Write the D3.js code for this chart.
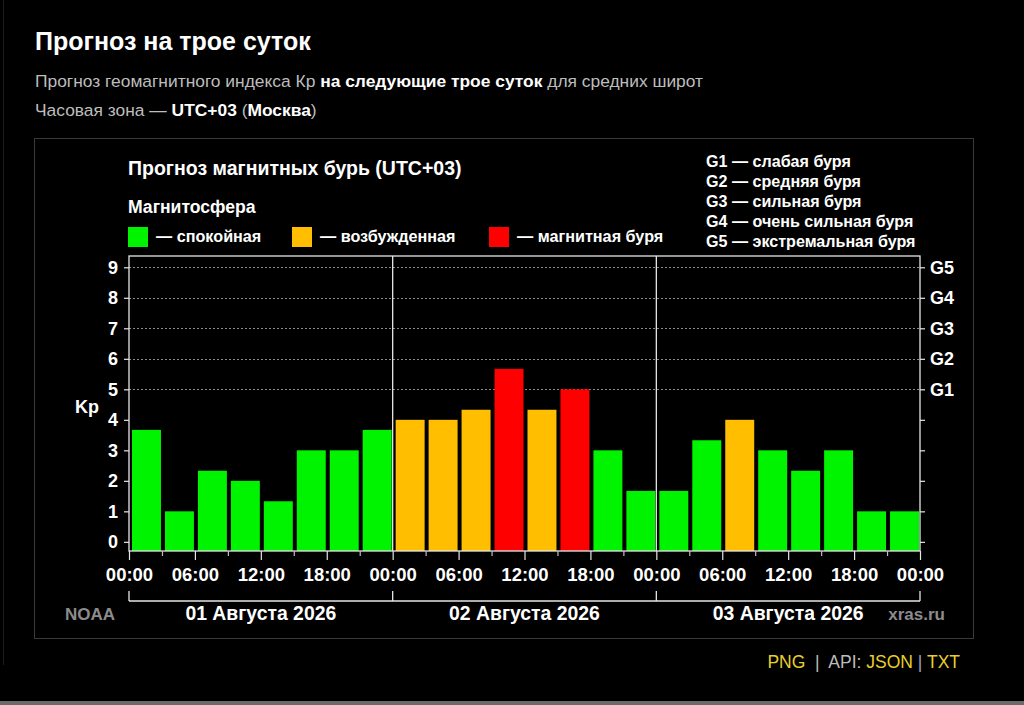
<!DOCTYPE html>
<html><head><meta charset="utf-8">
<script src="https://cdn.jsdelivr.net/npm/d3@7"></script>
<style>
body{margin:0;background:#000;overflow:hidden}
svg{display:block}
text{font-family:"Liberation Sans",Arial,Helvetica,sans-serif;white-space:pre}
</style>
</head><body><svg id="c" width="1024" height="705"></svg>
<script>
// ---- data ----
const days = ["01 Августа 2026", "02 Августа 2026", "03 Августа 2026"];
const kp = [3.67, 1, 2.33, 2, 1.33, 3, 3, 3.67,
            4, 4, 4.33, 5.67, 4.33, 5, 3, 1.67,
            1.67, 3.33, 4, 3, 2.33, 3, 1, 1];
const yTicks = [0, 1, 2, 3, 4, 5, 6, 7, 8, 9];
const gLevels = [5, 6, 7, 8, 9];
const gLabels = ["G1", "G2", "G3", "G4", "G5"];
const gLegend = ["G1 — слабая буря", "G2 — средняя буря", "G3 — сильная буря",
                 "G4 — очень сильная буря", "G5 — экстремальная буря"];
const statusLabels = ["— спокойная", "— возбужденная", "— магнитная буря"];
const statusColors = ["#00f400", "#ffbf00", "#ff0000"];
const hourLabels = ["00:00", "06:00", "12:00", "18:00"];

const svg = d3.select("#c");
const W = "#ffffff";

// page decorations
svg.append("line").attr("x1", 3.5).attr("x2", 3.5).attr("y1", 0).attr("y2", 665)
  .attr("stroke", "#1c1c1c");
svg.append("rect").attr("x", 0).attr("y", 701).attr("width", 1024).attr("height", 4).attr("fill", "#6a6a6a");

// header
svg.append("text").attr("x", 35).attr("y", 50).attr("fill", W)
  .style("font-size", "25px").style("font-weight", "bold").text("Прогноз на трое суток");
const s1 = svg.append("text").attr("x", 35).attr("y", 87).attr("fill", "#bdbdbd").style("font-size", "17.4px");
s1.append("tspan").text("Прогноз геомагнитного индекса Кр ");
s1.append("tspan").attr("fill", W).style("font-weight", "bold").text("на следующие трое суток");
s1.append("tspan").text(" для средних широт");
const s2 = svg.append("text").attr("x", 35).attr("y", 116).attr("fill", "#bdbdbd").style("font-size", "17.4px");
s2.append("tspan").text("Часовая зона — ");
s2.append("tspan").attr("fill", W).style("font-weight", "bold").text("UTC+03");
s2.append("tspan").text(" (");
s2.append("tspan").attr("fill", W).style("font-weight", "bold").text("Москва");
s2.append("tspan").text(")");

// chart frame
svg.append("rect").attr("x", 34.5).attr("y", 138.5).attr("width", 939).attr("height", 500)
  .attr("fill", "#000").attr("stroke", "#3a3a3a");

// chart titles
svg.append("text").attr("x", 128).attr("y", 175).attr("fill", W)
  .style("font-size", "19.5px").style("font-weight", "bold").text("Прогноз магнитных бурь (UTC+03)");
svg.append("text").attr("x", 128).attr("y", 213).attr("fill", W)
  .style("font-size", "17.6px").style("font-weight", "bold").text("Магнитосфера");

// status legend
const legX = [128, 292, 489];
statusLabels.forEach((l, i) => {
  svg.append("rect").attr("x", legX[i]).attr("y", 227).attr("width", 20).attr("height", 20).attr("fill", statusColors[i]);
  svg.append("text").attr("x", legX[i] + 28).attr("y", 242).attr("fill", W)
    .style("font-size", "16.2px").style("font-weight", "bold").text(l);
});

// G legend
gLegend.forEach((l, i) => {
  svg.append("text").attr("x", 706).attr("y", 167 + i * 20).attr("fill", W)
    .style("font-size", "16.1px").style("font-weight", "bold").text(l);
});

// scales
const x = d3.scaleLinear().domain([0, 72]).range([129, 920]);
const y = d3.scaleLinear().domain([-0.3, 9.37]).range([551, 256]);

// grid (storm levels)
svg.append("g").selectAll("line").data(gLevels).join("line")
  .attr("x1", x(0)).attr("x2", x(72))
  .attr("y1", d => Math.round(y(d)) + 0.5).attr("y2", d => Math.round(y(d)) + 0.5)
  .attr("stroke", "#8a8a8a").attr("stroke-dasharray", "2,2");

// bars
const colorOf = v => v >= 5 ? statusColors[2] : (v >= 4 ? statusColors[1] : statusColors[0]);
const slot = x(3) - x(0);
svg.append("g").selectAll("rect").data(kp).join("rect")
  .attr("x", (d, i) => x(i * 3) + 3)
  .attr("width", slot - 4)
  .attr("y", d => y(d))
  .attr("height", d => y(-0.3) - y(d))
  .attr("fill", d => colorOf(d));

// frame lines
const lineCol = "#e6e6e6";
svg.append("rect").attr("x", x(0)).attr("y", y(9.37)).attr("width", x(72) - x(0)).attr("height", y(-0.3) - y(9.37))
  .attr("fill", "none").attr("stroke", lineCol).attr("stroke-width", 1.3);
svg.append("g").selectAll("line").data([24, 48]).join("line")
  .attr("x1", d => x(d)).attr("x2", d => x(d)).attr("y1", y(9.37)).attr("y2", y(-0.3))
  .attr("stroke", lineCol).attr("stroke-width", 1.3);

function styleAxis(g, size) {
  g.select(".domain").remove();
  g.selectAll(".tick line").attr("stroke", lineCol).attr("stroke-width", 1.2);
  g.selectAll(".tick text").attr("fill", W).style("font-size", size + "px").style("font-weight", "bold")
    .style("font-family", '"Liberation Sans",Arial,sans-serif');
}

// left axis
svg.append("g").attr("transform", `translate(${x(0)},0)`)
  .call(d3.axisLeft(y).tickValues(yTicks).tickSize(5).tickPadding(6).tickFormat(d3.format("d")))
  .call(g => styleAxis(g, 18));
// right axis
svg.append("g").attr("transform", `translate(${x(72)},0)`)
  .call(d3.axisRight(y).tickValues(yTicks).tickSize(5).tickPadding(5)
    .tickFormat(d => { const k = gLevels.indexOf(d); return k >= 0 ? gLabels[k] : ""; }))
  .call(g => styleAxis(g, 18));

svg.append("text").attr("x", 75).attr("y", 413).attr("fill", W)
  .style("font-size", "18px").style("font-weight", "bold").text("Kp");

// bottom axes
svg.append("g").attr("transform", `translate(0,${y(-0.3)})`)
  .call(d3.axisBottom(x).tickValues(d3.range(3, 72, 6)).tickSize(5).tickFormat(""))
  .call(g => styleAxis(g, 18))
  .call(g => g.selectAll(".tick line").attr("stroke", "#c8b8c0"));
svg.append("g").attr("transform", `translate(0,${y(-0.3)})`)
  .call(d3.axisBottom(x).tickValues(d3.range(0, 73, 6)).tickSize(9).tickPadding(8)
    .tickFormat(d => hourLabels[(d / 6) % 4]))
  .call(g => styleAxis(g, 18.5));

// day bracket
const by = 601;
svg.append("line").attr("x1", x(0)).attr("x2", x(72)).attr("y1", by).attr("y2", by)
  .attr("stroke", lineCol).attr("stroke-width", 1.3);
svg.append("g").selectAll("line").data([0, 24, 48, 72]).join("line")
  .attr("x1", d => x(d)).attr("x2", d => x(d)).attr("y1", by - 10).attr("y2", by)
  .attr("stroke", lineCol).attr("stroke-width", 1.3);
svg.append("g").selectAll("text").data(days).join("text")
  .attr("x", (d, i) => x(i * 24 + 12)).attr("y", 620).attr("text-anchor", "middle")
  .attr("fill", W).style("font-size", "19.4px").style("font-weight", "bold").text(d => d);

svg.append("text").attr("x", 65).attr("y", 620).attr("fill", "#8c8c8c")
  .style("font-size", "17px").style("font-weight", "bold").text("NOAA");
svg.append("text").attr("x", 945).attr("y", 620).attr("text-anchor", "end").attr("fill", "#8c8c8c")
  .style("font-size", "17px").style("font-weight", "bold").text("xras.ru");

// links
const lk = svg.append("text").attr("x", 960).attr("y", 668).attr("text-anchor", "end").style("font-size", "17.5px");
lk.append("tspan").attr("fill", "#e8cf2a").text("PNG");
lk.append("tspan").attr("fill", "#bbbbbb").text("  |  API: ");
lk.append("tspan").attr("fill", "#e8cf2a").text("JSON");
lk.append("tspan").attr("fill", "#9aa0c8").text(" | ");
lk.append("tspan").attr("fill", "#e8cf2a").text("TXT");
</script>
</body></html>
